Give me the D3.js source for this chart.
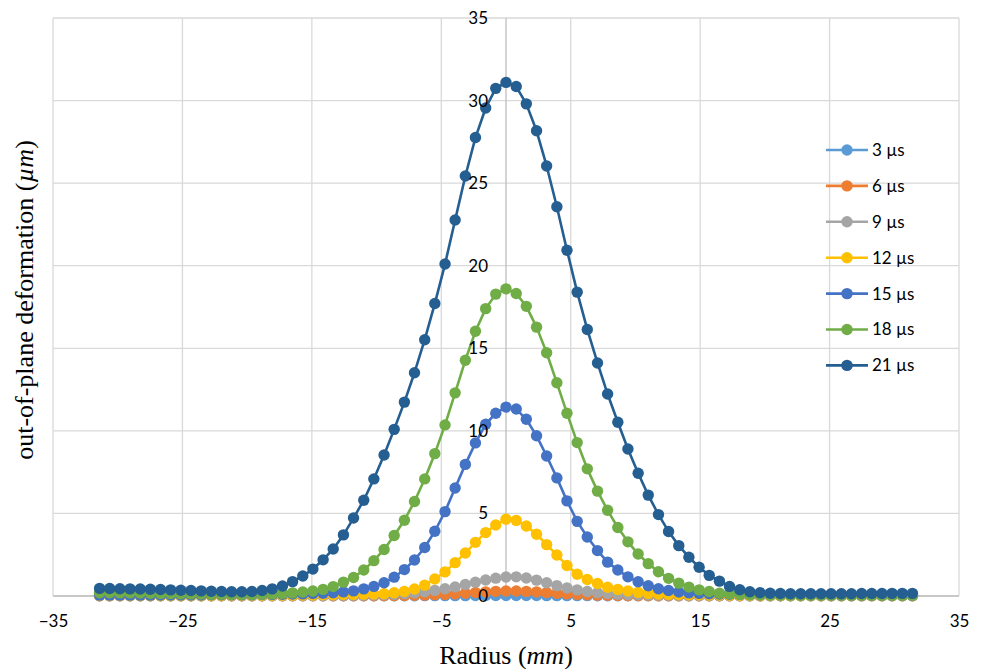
<!DOCTYPE html>
<html>
<head>
<meta charset="utf-8">
<script src="https://cdn.jsdelivr.net/npm/d3@7"></script>
<style>
  html, body { margin: 0; padding: 0; background: #ffffff; }
  svg { display: block; }
</style>
</head>
<body>
<svg id="chart" width="983" height="669"></svg>
<script>
// ---- Data ----
const radius = [
  -31.40,-30.62,-29.83,-29.05,-28.26,-27.48,-26.69,-25.91,-25.12,-24.34,
  -23.55,-22.77,-21.98,-21.20,-20.41,-19.63,-18.84,-18.06,-17.27,-16.49,
  -15.70,-14.92,-14.13,-13.35,-12.56,-11.78,-10.99,-10.21,-9.42,-8.64,
  -7.85,-7.07,-6.28,-5.50,-4.71,-3.93,-3.14,-2.36,-1.57,-0.79,
  0,
  0.79,1.57,2.36,3.14,3.93,4.71,5.50,6.28,7.07,7.85,
  8.64,9.42,10.21,10.99,11.78,12.56,13.35,14.13,14.92,15.70,
  16.49,17.27,18.06,18.84,19.63,20.41,21.20,21.98,22.77,23.55,
  24.34,25.12,25.91,26.69,27.48,28.26,29.05,29.83,30.62,31.40
];

const us3 = [
  0.01,0.01,0.01,0.01,0.01,0.01,0.01,0.01,0.01,0.01,
  0.01,0.01,0.01,0.01,0.01,0.01,0.01,0.01,0.01,0.01,
  0.01,0.01,0.01,0.01,0.01,0.01,0.01,0.01,0.01,0.01,
  0.01,0.01,0.02,0.02,0.02,0.02,0.02,0.03,0.03,0.03,
  0.03,
  0.03,0.03,0.03,0.02,0.02,0.02,0.02,0.02,0.01,0.01,
  0.01,0.01,0.01,0.01,0.01,0.01,0.01,0.01,0.01,0.01,
  0.01,0.01,0.01,0.01,0.01,0.01,0.01,0.01,0.01,0.01,
  0.01,0.01,0.01,0.01,0.01,0.01,0.01,0.01,0.01,0.01
];
const us6 = [
  0.01,0.01,0.01,0.01,0.01,0.01,0.01,0.01,0.01,0.01,
  0.01,0.01,0.01,0.01,0.01,0.01,0.01,0.01,0.01,0.01,
  0.01,0.01,0.01,0.01,0.01,0.01,0.01,0.01,0.02,0.02,
  0.03,0.04,0.05,0.07,0.10,0.13,0.17,0.21,0.25,0.28,
  0.30,
  0.30,0.28,0.25,0.21,0.17,0.13,0.10,0.07,0.05,0.04,
  0.03,0.02,0.02,0.02,0.01,0.01,0.01,0.01,0.01,0.01,
  0.01,0.01,0.01,0.01,0.01,0.01,0.01,0.01,0.01,0.01,
  0.01,0.01,0.01,0.01,0.01,0.01,0.01,0.01,0.01,0.01
];
const us9 = [
  0.02,0.02,0.02,0.02,0.02,0.02,0.02,0.02,0.02,0.02,
  0.02,0.02,0.02,0.02,0.02,0.02,0.02,0.02,0.02,0.02,
  0.03,0.03,0.03,0.04,0.04,0.05,0.05,0.06,0.07,0.10,
  0.14,0.19,0.26,0.34,0.44,0.55,0.70,0.83,0.97,1.08,
  1.15,
  1.16,1.09,0.96,0.80,0.63,0.48,0.37,0.27,0.20,0.15,
  0.11,0.08,0.07,0.06,0.05,0.04,0.04,0.03,0.03,0.03,
  0.02,0.02,0.02,0.02,0.02,0.02,0.02,0.02,0.02,0.02,
  0.02,0.02,0.02,0.02,0.02,0.02,0.02,0.02,0.02,0.02
];
const us12 = [
  0.03,0.03,0.03,0.03,0.03,0.03,0.03,0.03,0.03,0.03,
  0.03,0.03,0.03,0.04,0.04,0.04,0.04,0.05,0.05,0.05,
  0.06,0.06,0.07,0.08,0.09,0.10,0.11,0.12,0.14,0.20,
  0.28,0.42,0.66,1.03,1.46,2.02,2.60,3.25,3.84,4.30,
  4.65,
  4.58,4.24,3.74,3.11,2.48,1.85,1.32,1.00,0.76,0.53,
  0.40,0.30,0.22,0.16,0.12,0.10,0.09,0.08,0.07,0.06,
  0.06,0.05,0.05,0.05,0.04,0.04,0.04,0.04,0.03,0.03,
  0.03,0.03,0.03,0.03,0.03,0.03,0.03,0.03,0.03,0.03
];
const us15 = [
  0.05,0.05,0.05,0.05,0.05,0.05,0.06,0.06,0.06,0.06,
  0.06,0.07,0.07,0.07,0.08,0.08,0.09,0.10,0.11,0.12,
  0.13,0.15,0.17,0.20,0.25,0.31,0.43,0.58,0.80,1.14,
  1.60,2.18,2.94,3.92,5.11,6.54,7.97,9.27,10.40,11.07,
  11.44,
  11.32,10.70,9.70,8.48,7.15,5.76,4.52,3.57,2.75,2.05,
  1.57,1.16,0.86,0.62,0.44,0.33,0.24,0.19,0.16,0.14,
  0.12,0.11,0.10,0.09,0.08,0.08,0.07,0.07,0.06,0.06,
  0.06,0.06,0.05,0.05,0.05,0.05,0.05,0.05,0.05,0.05
];
const us18 = [
  0.20,0.20,0.19,0.19,0.18,0.17,0.16,0.15,0.14,0.13,
  0.12,0.11,0.11,0.10,0.10,0.10,0.11,0.13,0.16,0.19,
  0.24,0.30,0.40,0.57,0.84,1.12,1.57,2.14,2.82,3.66,
  4.59,5.72,7.09,8.62,10.36,12.30,14.28,16.03,17.40,18.28,
  18.60,
  18.32,17.54,16.28,14.73,12.91,11.07,9.29,7.70,6.35,5.19,
  4.15,3.28,2.54,1.96,1.47,1.07,0.78,0.54,0.37,0.27,
  0.17,0.13,0.10,0.08,0.07,0.06,0.06,0.05,0.05,0.05,
  0.05,0.05,0.05,0.05,0.05,0.05,0.05,0.05,0.05,0.05
];
const us21 = [
  0.46,0.45,0.44,0.43,0.42,0.41,0.39,0.37,0.35,0.33,
  0.31,0.29,0.27,0.26,0.26,0.27,0.33,0.43,0.61,0.87,
  1.21,1.63,2.19,2.85,3.70,4.72,5.80,7.09,8.54,10.09,
  11.74,13.52,15.52,17.71,20.10,22.77,25.43,27.76,29.55,30.74,
  31.10,
  30.85,29.80,28.17,26.04,23.57,20.94,18.40,16.14,14.11,12.23,
  10.52,8.90,7.43,6.11,4.93,3.91,3.05,2.35,1.74,1.25,
  0.90,0.58,0.38,0.26,0.20,0.17,0.15,0.14,0.14,0.14,
  0.14,0.14,0.14,0.14,0.15,0.15,0.15,0.16,0.16,0.16
];

const seriesNames = ["3 µs", "6 µs", "9 µs", "12 µs", "15 µs", "18 µs", "21 µs"];
const seriesValues = [us3, us6, us9, us12, us15, us18, us21];
const seriesColors = ["#5B9BD5", "#ED7D31", "#A5A5A5", "#FFC000", "#4472C4", "#70AD47", "#255E91"];

const xTicks = [-35, -25, -15, -5, 5, 15, 25, 35];
const yTicks = [0, 5, 10, 15, 20, 25, 30, 35];

// ---- Layout ----
const svg = d3.select("#chart");
const tickFont = "Lato, 'Open Sans', sans-serif";
const titleFont = "'Liberation Serif', 'DejaVu Serif', serif";

const x = d3.scaleLinear().domain([-35, 35]).range([53, 959]);
const y = d3.scaleLinear().domain([0, 35]).range([596, 18]);

// gridlines
const grid = svg.append("g");
grid.selectAll("line.h").data(yTicks).join("line")
  .attr("x1", x(-35)).attr("x2", x(35))
  .attr("y1", d => y(d)).attr("y2", d => y(d))
  .attr("stroke", "#d9d9d9").attr("stroke-width", 1.3);
grid.selectAll("line.v").data(xTicks).join("line")
  .attr("y1", y(0)).attr("y2", y(35))
  .attr("x1", d => x(d)).attr("x2", d => x(d))
  .attr("stroke", "#d9d9d9").attr("stroke-width", 1.3);

// axis lines
svg.append("line").attr("x1", x(0)).attr("x2", x(0)).attr("y1", y(0)).attr("y2", y(35))
  .attr("stroke", "#bfbfbf").attr("stroke-width", 1.3);
svg.append("line").attr("x1", x(-35)).attr("x2", x(35)).attr("y1", y(0)).attr("y2", y(0))
  .attr("stroke", "#bfbfbf").attr("stroke-width", 1.3);

// series
const line = d3.line().x((d, i) => x(radius[i])).y(d => y(d));
seriesValues.forEach((vals, k) => {
  const g = svg.append("g");
  g.append("path").datum(vals).attr("d", line)
    .attr("fill", "none").attr("stroke", seriesColors[k]).attr("stroke-width", 2.6)
    .attr("stroke-linejoin", "round");
  g.selectAll("circle").data(vals).join("circle")
    .attr("cx", (d, i) => x(radius[i])).attr("cy", d => y(d)).attr("r", 5.7)
    .attr("fill", seriesColors[k]);
});

// axes labels
const yAxis = d3.axisLeft(y).tickValues(yTicks).tickSize(0).tickPadding(18);
const yg = svg.append("g").attr("transform", `translate(${x(0)},0)`).call(yAxis);
yg.select(".domain").remove();
yg.selectAll("text").attr("font-family", tickFont).attr("font-size", 17).attr("fill", "#000");

const xAxis = d3.axisBottom(x).tickValues(xTicks).tickSize(0).tickPadding(19);
const xg = svg.append("g").attr("transform", `translate(0,${y(0)})`).call(xAxis);
xg.select(".domain").remove();
xg.selectAll("text").attr("font-family", tickFont).attr("font-size", 17).attr("fill", "#000");

// axis titles
const xt = svg.append("text").attr("x", 506).attr("y", 664).attr("text-anchor", "middle")
  .attr("font-family", titleFont).attr("font-size", 26).attr("fill", "#000");
xt.append("tspan").text("Radius (");
xt.append("tspan").attr("font-style", "italic").text("mm");
xt.append("tspan").text(")");

const yt = svg.append("text").attr("transform", "translate(33,300) rotate(-90)")
  .attr("text-anchor", "middle")
  .attr("font-family", titleFont).attr("font-size", 26).attr("fill", "#000");
yt.append("tspan").text("out-of-plane deformation (");
yt.append("tspan").attr("font-style", "italic").text("µm");
yt.append("tspan").text(")");

// legend
const legend = svg.append("g");
seriesNames.forEach((name, k) => {
  const ly = 150 + k * 35.9;
  legend.append("line").attr("x1", 826).attr("x2", 868).attr("y1", ly).attr("y2", ly)
    .attr("stroke", seriesColors[k]).attr("stroke-width", 2.6);
  legend.append("circle").attr("cx", 847).attr("cy", ly).attr("r", 5.7).attr("fill", seriesColors[k]);
  legend.append("text").attr("x", 872).attr("y", ly).attr("dy", "0.35em")
    .attr("font-family", tickFont).attr("font-size", 17).attr("fill", "#000").text(name);
});
</script>
</body>
</html>
